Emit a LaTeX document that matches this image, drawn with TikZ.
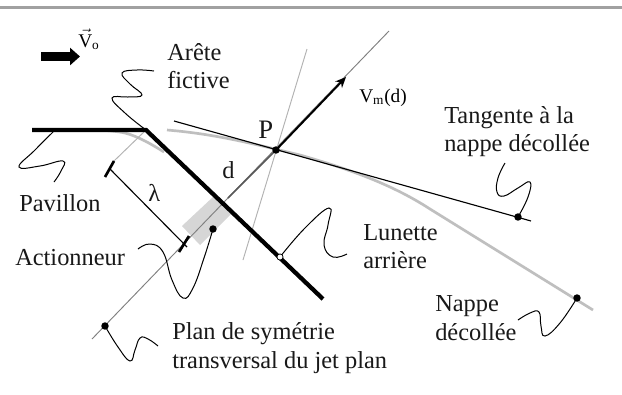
\documentclass[tikz,border=0pt]{standalone}
\usepackage{fontspec}
\setmainfont{Liberation Serif}
\usetikzlibrary{arrows.meta}
\definecolor{nappe}{gray}{0.75}
\definecolor{rule}{gray}{0.63}
\tikzset{
  x=0.75pt,y=-0.75pt,
  lbl/.style={anchor=base west,inner sep=0pt,font=\fontsize{18.3}{21}\selectfont,align=left,text=black!90},
  lblsmall/.style={anchor=base west,inner sep=0pt,font=\fontsize{14.5}{17}\selectfont},
  wiggle/.style={draw=black,line width=0.75pt,smooth,tension=0.75},
  soliddot/.style={circle,fill=black,inner sep=0pt,minimum size=5.6pt},
  opendot/.style={circle,fill=white,draw=black,line width=0.6pt,inner sep=0pt,minimum size=4.6pt},
  plate/.style={line width=3.2pt,black},
  thinblack/.style={line width=0.85pt,black},
  axis/.style={line width=0.7pt,black!50},
  tangentgray/.style={line width=0.7pt,black!30},
  nappeline/.style={line width=2pt,nappe},
  bar/.style={line width=2pt,black}
}
\begin{document}
\begin{tikzpicture}
\useasboundingbox (0,0) rectangle (622,394);
\fill[white] (0,0) rectangle (622,394);
\draw[rule,line width=1.7pt] (0,7.5) -- (622,7.5);

% key points
\coordinate (jetEnd) at (92,339);
\coordinate (jetTop) at (389,31);
\coordinate (arrowTip) at (346,77);
\coordinate (tangA) at (307,49);
\coordinate (tangB) at (243,260);
\coordinate (tanS) at (174,121);
\coordinate (tanE) at (531,221);
\coordinate (platel) at (32,130);
\coordinate (corner) at (146,130);
\coordinate (plateEnd) at (323,299);
\coordinate (lamA) at (105,177);
\coordinate (lamB) at (114,161);
\coordinate (lamC) at (179,252);
\coordinate (lamD) at (189,236);
\coordinate (lamMidA) at (110,169);
\coordinate (lamMidB) at (187,247);
\coordinate (windA) at (41,56.5);
\coordinate (windB) at (80,56.5);

% actuator
\fill[black!16] (213,197) -- (182,226) -- (200,245) -- (231,214) -- cycle;

% gray sheet
\draw[nappeline] plot[smooth,tension=0.6] coordinates {(100,130) (125,133) (145,141) (164,152)};
\draw[nappeline] (167,130) .. controls (215,134) and (250,143) .. (300,155) .. controls (345,168) and (390,183) .. (430,209) -- (593,310);

% lines
\draw[axis] (jetEnd) -- (jetTop);
\draw[line width=1.1pt,black!65] (228,198) -- (276,150);
\draw[tangentgray] (tangA) -- (tangB);
\draw[tangentgray] (corner) -- (lamB);
\draw[thinblack] (tanS) -- (tanE);
\draw[plate,line cap=butt] (platel) -- (corner) -- (plateEnd);
\draw[bar] (lamA) -- (lamB);
\draw[bar] (lamC) -- (lamD);
\draw[thinblack] (lamMidA) -- (lamMidB);

% arrows
\draw[line width=1.5pt,black,-{Stealth[length=8pt,width=7pt]}] (276,150) -- (arrowTip);
\draw[line width=6.6pt,black,-{Triangle[length=7.5pt,width=12.8pt]}] (windA) -- (windB);

% dots
\node[soliddot] (dP) at (276,150) {};
\node[soliddot] (dAct) at (213,229) {};
\node[soliddot] (dPlan) at (105,326) {};
\node[soliddot] (dTan) at (518,217) {};
\node[soliddot] (dNap) at (577,298) {};

% wiggles
\draw[wiggle] plot coordinates {(154,71) (137,70) (122,73) (130,84) (142,95) (128,97) (112,98) (125,113) (corner)};
\draw[wiggle] plot coordinates {(54,131) (35,150) (19,167) (40,166) (63,161) (61,171) (54,182)};
\draw[wiggle] plot coordinates {(138,249) (150,244) (163,252) (172,280) (183,298) (193,288) (204,258) (213,229)};
\draw[wiggle] plot coordinates {(105,326) (118,347) (130,361) (135,350) (140,338) (148,339) (158,346)};
\draw[wiggle] plot coordinates {(280,257) (305,228) (329,208) (328,225) (324,245) (333,257) (347,254)};
\draw[wiggle] plot coordinates {(505,163) (498,178) (497,192) (504,196) (518,188) (530,182) (528,197) (518,217)};
\draw[wiggle] plot coordinates {(518,320) (530,313) (539,312) (541,326) (545,336) (560,323) (577,298)};

\node[opendot] (dLun) at (280,257) {};

% labels
\node[lblsmall] (tV) at (78,47) {$\vec{\hbox{V}}$$_{\hbox{\fontsize{10}{10}\selectfont o}}$};
\node[lbl] (tArete) at (167,60) {Arête};
\node[lbl] (tFict) at (167,88) {fictive};
\node[lbl,font=\fontsize{20}{22}\selectfont] (tP) at (258,138) {P};
\node[lbl] (td) at (222,178) {d};
\node[lbl] (tlam) at (148,201) {λ};
\node[lblsmall] (tVm) at (359,102) {V$_{\hbox{\fontsize{10}{10}\selectfont m}}$(d)};
\node[lbl] (tTan) at (444,123) {Tangente à la};
\node[lbl] (tNd) at (444,151) {nappe décollée};
\node[lbl] (tPav) at (19,211) {Pavillon};
\node[lbl] (tAct) at (15,265) {Actionneur};
\node[lbl] (tLun) at (363,240) {Lunette};
\node[lbl] (tArr) at (363,268) {arrière};
\node[lbl] (tNap) at (435,311) {Nappe};
\node[lbl] (tDec) at (435,340) {décollée};
\node[lbl] (tPlan) at (172,339) {Plan de symétrie};
\node[lbl] (tTrans) at (172,368) {transversal du jet plan};
\end{tikzpicture}
\end{document}
